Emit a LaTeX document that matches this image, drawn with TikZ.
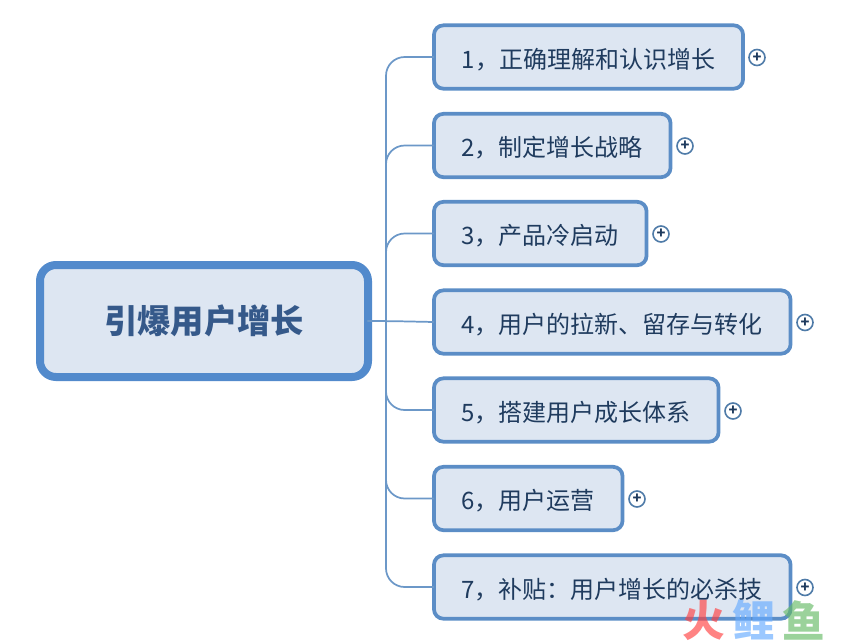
\documentclass[tikz,border=0pt]{standalone}
\usepackage{fontspec}
\setmainfont{Noto Sans CJK SC}
\definecolor{boxfill}{HTML}{DDE6F2}
\definecolor{boxline}{HTML}{5B8DC6}
\definecolor{rootline}{HTML}{528ACC}
\definecolor{topictext}{HTML}{1F3B5E}
\definecolor{roottext}{HTML}{35598A}
\definecolor{branchline}{HTML}{6C98C8}
\definecolor{plusline}{HTML}{4F7BA8}
\tikzset{
  rootbox/.style={draw=rootline,fill=boxfill,line width=6pt,rounded corners=12pt,
    minimum width=246pt,minimum height=84pt,outer sep=0pt,text=roottext,
    font=\fontsize{25}{25}\selectfont\bfseries},
  topicbox/.style={draw=boxline,fill=boxfill,line width=2.8pt,rounded corners=7pt,
    minimum height=47.5pt,outer sep=0pt,anchor=west,text=topictext,
    text height=17pt,text depth=0.2pt,
    font=\fontsize{18}{18}\selectfont},
  plusbtn/.style={circle,draw=plusline,fill=white,line width=1.2pt,minimum size=12pt,
    inner sep=0pt,text=topictext,font=\fontsize{11}{11}\selectfont\bfseries},
  branch/.style={draw=branchline,line width=1.3pt,rounded corners=14pt},
  watermark/.style={opacity=0.65,font=\fontsize{32}{32}\selectfont\bfseries}
}
\begin{document}
\begin{tikzpicture}[x=0.75pt,y=-0.75pt]
    \useasboundingbox (0,0) rectangle (850,643);

    % central topic
    \node[rootbox] (root) at (204,321) {引爆用户增长};

    % topics
    \node[topicbox,minimum width=231.8pt] (topicA) at (434,57) {1，正确理解和认识增长};
    \node[topicbox,minimum width=177.4pt] (topicB) at (434,145.5) {2，制定增长战略};
    \node[topicbox,minimum width=159.4pt] (topicC) at (434,233.5) {3，产品冷启动};
    \node[topicbox,minimum width=267.4pt] (topicD) at (434,322) {4，用户的拉新、留存与转化};
    \node[topicbox,minimum width=213.4pt] (topicE) at (434,410) {5，搭建用户成长体系};
    \node[topicbox,minimum width=141.4pt] (topicF) at (434,498.5) {6，用户运营};
    \node[topicbox,minimum width=267.4pt] (topicG) at (434,587) {7，补贴：用户增长的必杀技};

    % connectors
    \coordinate (trunk) at (386,321);
    \draw[branch] (root.east) -- (trunk) -- (topicD.west);
    \draw[branch] (trunk) |- (topicA.west);
    \draw[branch] (trunk) |- (topicB.west);
    \draw[branch] (trunk) |- (topicC.west);
    \draw[branch] (trunk) |- (topicE.west);
    \draw[branch] (trunk) |- (topicF.west);
    \draw[branch] (trunk) |- (topicG.west);

    % expand buttons
    \node[plusbtn] (plusA) at (757,57.5) {+};
    \node[plusbtn] (plusB) at (685,146) {+};
    \node[plusbtn] (plusC) at (661,234) {+};
    \node[plusbtn] (plusD) at (805,322.5) {+};
    \node[plusbtn] (plusE) at (733,411) {+};
    \node[plusbtn] (plusF) at (637,499) {+};
    \node[plusbtn] (plusG) at (805,587.5) {+};

    % watermark
    \node[watermark,text=red!75!white] (markA) at (704,620) {火};
    \node[watermark,text=blue!55!cyan!60!white] (markB) at (754,620) {鲤};
    \node[watermark,text=green!55!black!60!white] (markC) at (804,620) {鱼};
\end{tikzpicture}
\end{document}
